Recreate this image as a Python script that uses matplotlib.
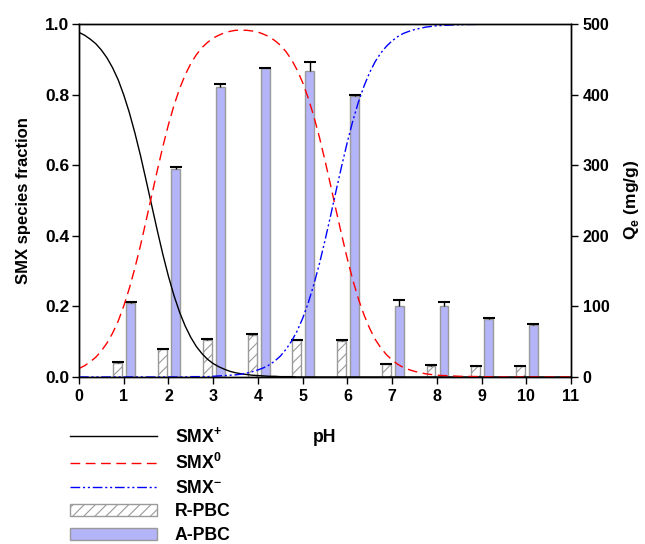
import matplotlib
matplotlib.use("Agg")
import matplotlib.pyplot as plt

plt.rcParams['font.family'] = ['Liberation Sans', 'DejaVu Sans']
plt.rcParams['font.weight'] = 'bold'
plt.rcParams['mathtext.fontset'] = 'custom'
plt.rcParams['mathtext.rm'] = 'Liberation Sans:bold'
plt.rcParams['mathtext.bf'] = 'Liberation Sans:bold'
plt.rcParams['hatch.color'] = '#8c8c8c'
plt.rcParams['hatch.linewidth'] = 0.8

# SMX speciation vs pH
ph_curve = [0, 0.125, 0.25, 0.375, 0.5, 0.625, 0.75, 0.875, 1.0, 1.125,
            1.25, 1.375, 1.5, 1.625, 1.75, 1.875, 2.0, 2.125, 2.25, 2.375,
            2.5, 2.625, 2.75, 2.875, 3.0, 3.125, 3.25, 3.375, 3.5, 3.625,
            3.75, 3.875, 4.0, 4.125, 4.25, 4.375, 4.5, 4.625, 4.75, 4.875,
            5.0, 5.125, 5.25, 5.375, 5.5, 5.625, 5.75, 5.875, 6.0, 6.125,
            6.25, 6.375, 6.5, 6.625, 6.75, 6.875, 7.0, 7.125, 7.25, 7.375,
            7.5, 7.75, 8.0, 8.5, 9.0, 9.5, 10.0, 10.5, 11.0]
smx_pos = [0.976, 0.968, 0.957, 0.944, 0.926, 0.904, 0.876, 0.842, 0.799,
           0.749, 0.691, 0.627, 0.557, 0.486, 0.415, 0.347, 0.285, 0.230,
           0.183, 0.144, 0.112, 0.086, 0.066, 0.050, 0.038, 0.029, 0.022,
           0.016, 0.012, 0.009, 0.007, 0.005, 0.004, 0.003, 0.002, 0.002,
           0.001, 0.001, 0.001, 0.0, 0.0, 0.0, 0.0, 0.0, 0.0, 0.0, 0.0, 0.0,
           0.0, 0.0, 0.0, 0.0, 0.0, 0.0, 0.0, 0.0, 0.0, 0.0, 0.0, 0.0, 0.0,
           0.0, 0.0, 0.0, 0.0, 0.0, 0.0, 0.0, 0.0]
smx_neu = [0.024, 0.032, 0.043, 0.056, 0.074, 0.096, 0.124, 0.158, 0.201,
           0.251, 0.309, 0.373, 0.443, 0.514, 0.585, 0.653, 0.715, 0.770,
           0.817, 0.856, 0.888, 0.913, 0.933, 0.948, 0.960, 0.968, 0.975,
           0.979, 0.982, 0.982, 0.982, 0.980, 0.977, 0.971, 0.964, 0.953,
           0.940, 0.922, 0.899, 0.870, 0.834, 0.790, 0.738, 0.679, 0.613,
           0.543, 0.471, 0.401, 0.334, 0.273, 0.220, 0.175, 0.137, 0.106,
           0.082, 0.063, 0.048, 0.036, 0.027, 0.021, 0.016, 0.009, 0.005,
           0.002, 0.001, 0.0, 0.0, 0.0, 0.0]
smx_neg = [0.0, 0.0, 0.0, 0.0, 0.0, 0.0, 0.0, 0.0, 0.0, 0.0, 0.0, 0.0, 0.0,
           0.0, 0.0, 0.0, 0.0, 0.0, 0.0, 0.0, 0.001, 0.001, 0.001, 0.001,
           0.002, 0.003, 0.004, 0.005, 0.006, 0.008, 0.011, 0.015, 0.020,
           0.026, 0.034, 0.045, 0.059, 0.078, 0.101, 0.130, 0.166, 0.210,
           0.262, 0.321, 0.387, 0.457, 0.529, 0.599, 0.666, 0.727, 0.780,
           0.825, 0.863, 0.894, 0.918, 0.937, 0.952, 0.964, 0.973, 0.979,
           0.984, 0.991, 0.995, 0.998, 0.999, 1.0, 1.0, 1.0, 1.0]

# Adsorption capacity Qe (mg/g)
ph_bar = [1, 2, 3, 4, 5, 6, 7, 8, 9, 10]
r_pbc = [20, 39, 53, 60, 52, 51, 18, 16, 15, 15]
r_pbc_err = [1, 1, 1, 1, 1, 1, 1, 1, 1, 1]
a_pbc = [105, 294, 410, 437, 434, 398, 100, 100, 82, 73]
a_pbc_err = [1, 3, 5, 1, 12, 2, 9, 6, 1, 2]

fig = plt.figure(figsize=(6.45, 5.44), dpi=100)
ax = fig.add_axes([0.1225, 0.307, 0.7628, 0.649])
ax2 = ax.twinx()

bar_w = 0.2
r_x = [p - 0.13 for p in ph_bar]
a_x = [p + 0.16 for p in ph_bar]
r_bars = ax2.bar(r_x, r_pbc, width=bar_w, color='white', edgecolor='#9a9a9a',
                 linewidth=1.0, hatch='///', label='R-PBC')
a_bars = ax2.bar(a_x, a_pbc, width=bar_w, color='#b4b4f8', edgecolor='#9a9a9a',
                 linewidth=1.0, label='A-PBC')

# upper error bars only, cap at the top
for xs, ys, es in ((r_x, r_pbc, r_pbc_err), (a_x, a_pbc, a_pbc_err)):
    ax2.errorbar(xs, ys, yerr=[[0] * len(es), es], fmt='none',
                 ecolor='black', elinewidth=1.0, capsize=0)
    ax2.plot(xs, [y + e for y, e in zip(ys, es)], ls='none', marker='_',
             color='black', markersize=9, markeredgewidth=1.5)

# curves on top of the bars
ax.set_zorder(ax2.get_zorder() + 1)
ax.patch.set_visible(False)
l1, = ax.plot(ph_curve, smx_pos, color='black', lw=1.0)
l2, = ax.plot(ph_curve, smx_neu, color='#ff0000', lw=1.0, dashes=(7, 4))
l3, = ax.plot(ph_curve, smx_neg, color='#0000ff', lw=1.0,
              dashes=(7, 2, 1.5, 2, 1.5, 2))

ax.set_xlim(0, 11)
ax.set_ylim(0, 1.0)
ax2.set_ylim(0, 500)
ax.set_xticks(range(0, 12))
ax.set_yticks([0.0, 0.2, 0.4, 0.6, 0.8, 1.0])
ax.set_yticklabels(['0.0', '0.2', '0.4', '0.6', '0.8', '1.0'])
ax2.set_yticks([0, 100, 200, 300, 400, 500])

for a in (ax, ax2):
    a.tick_params(direction='out', length=5, width=1.0, labelsize=11.5)
    for s in a.spines.values():
        s.set_linewidth(1.0)
ax.tick_params(axis='y', labelsize=12.5, pad=2)
for lab in ax.get_xticklabels() + ax.get_yticklabels() + ax2.get_yticklabels():
    lab.set_fontweight('bold')

ax.set_ylabel('SMX species fraction', fontsize=12, fontweight='bold', labelpad=10)
ax2.set_ylabel('Q$_\\mathregular{e}$ (mg/g)', fontsize=12.5, fontweight='bold',
               labelpad=9)
ax.set_xlabel('pH', fontsize=12.7, fontweight='bold', labelpad=18)

fig.legend([l1, l2, l3, r_bars, a_bars],
           ['SMX$^{+}$', 'SMX$^{0}$', 'SMX$^{-}$', 'R-PBC', 'A-PBC'],
           loc='upper left', bbox_to_anchor=(0.095, 0.233), frameon=False,
           handlelength=4.95, handleheight=0.65, handletextpad=1.0,
           labelspacing=0.38, borderpad=0,
           prop={'weight': 'bold', 'size': 12.7})

fig.savefig('out.png', dpi=100)
